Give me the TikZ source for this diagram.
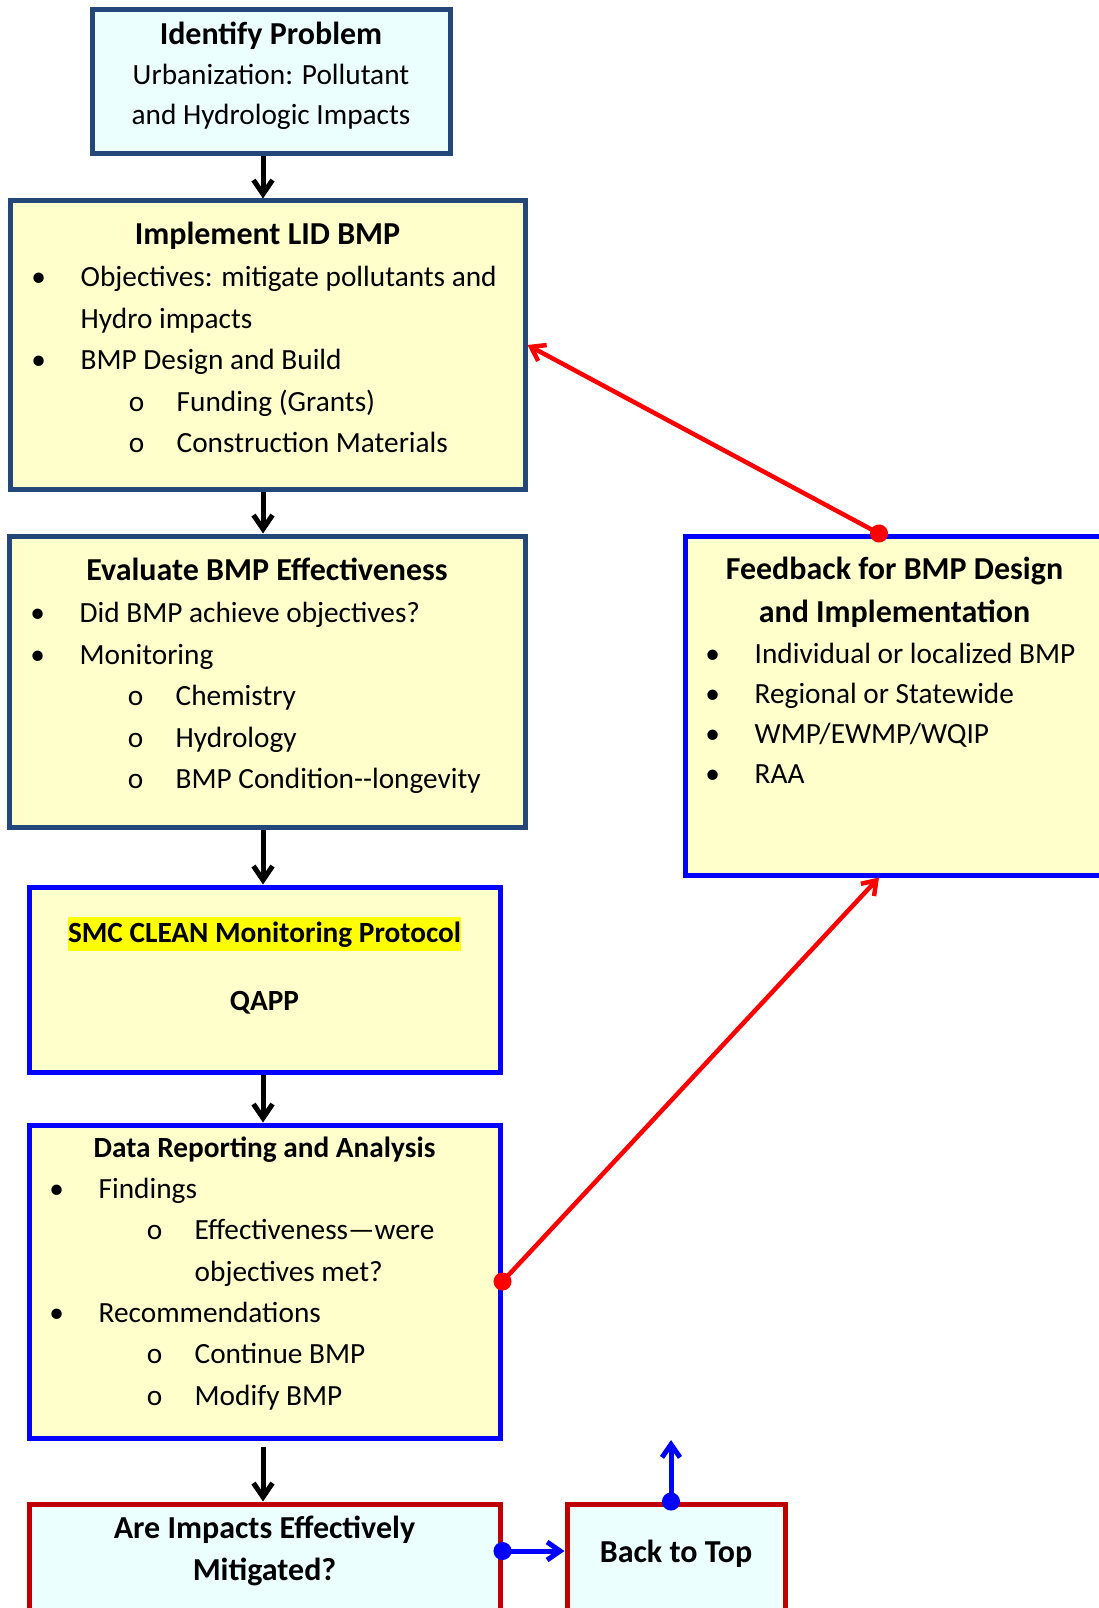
\documentclass[tikz,border=0pt]{standalone}
\usepackage{fontspec}
\setmainfont{Carlito}
\usetikzlibrary{arrows.meta,calc}

\definecolor{boxyellow}{HTML}{FFFFCC}
\definecolor{boxcyan}{HTML}{EBFFFF}
\definecolor{navyline}{HTML}{24477A}
\definecolor{pureblue}{HTML}{0000FF}
\definecolor{darkred}{HTML}{C00000}
\definecolor{hiyellow}{HTML}{FFFF00}

% list lines: bullet, sub-bullet, continuation
\newcommand{\bpt}[1]{\makebox[0pt]{\textbullet}\hspace*{42pt}#1}
\newcommand{\spt}[1]{\hspace*{98pt}\makebox[0pt]{o}\hspace*{40pt}#1}
\newcommand{\bcont}[1]{\hspace*{42pt}#1}
\newcommand{\scont}[1]{\hspace*{138pt}#1}

\begin{document}
\begin{tikzpicture}[x=1pt, y=-1pt,
    box/.style={draw, line width=5pt, inner sep=0pt},
    title/.style={anchor=base, inner sep=0pt, font=\fontsize{32}{38}\selectfont\bfseries},
    body/.style={anchor=base, inner sep=0pt, font=\fontsize{29.3}{35}\selectfont},
    item/.style={anchor=base west, inner sep=0pt, font=\fontsize{29.3}{35}\selectfont},
    flow/.style={line width=5pt, -{Straight Barb[length=14pt,width=19pt]}},
    loop/.style={red, line width=4.5pt, shorten <=-9pt,
        {Circle[length=18pt]}-{Straight Barb[length=13pt,width=18pt]}},
    jump/.style={pureblue, line width=5pt, shorten <=-9pt,
        {Circle[length=18pt]}-{Straight Barb[length=13pt,width=18pt]}}]
    \clip (0,0) rectangle (1099,1608);
    \useasboundingbox (0,0) rectangle (1099,1608);

    % Boxes
    \node[box, draw=navyline, fill=boxcyan, minimum width=358pt, minimum height=144pt] (identify) at (271,82) {};
    \node[box, draw=navyline, fill=boxyellow, minimum width=515pt, minimum height=288pt] (implement) at (267.5,345) {};
    \node[box, draw=navyline, fill=boxyellow, minimum width=516pt, minimum height=291pt] (evaluate) at (267,681.5) {};
    \node[box, draw=pureblue, fill=boxyellow, minimum width=471pt, minimum height=185pt] (protocol) at (264.5,979.5) {};
    \node[box, draw=pureblue, fill=boxyellow, minimum width=471pt, minimum height=313pt] (report) at (264.5,1281.5) {};
    \node[box, draw=darkred, fill=boxcyan, minimum width=471pt, minimum height=156pt] (mitigated) at (264.5,1582) {};
    \node[box, draw=darkred, fill=boxcyan, minimum width=218pt, minimum height=156pt] (backtop) at (676,1582) {};
    \node[box, draw=pureblue, fill=boxyellow, minimum width=419pt, minimum height=339pt] (feedback) at (894.5,705.5) {};

    % Identify Problem
    \node[title] (identify-t) at ($(identify.north)+(0,37)$) {Identify Problem};
    \node[body] (identify-1) at ($(identify.north)+(0,77)$) {Urbanization: Pollutant};
    \node[body] (identify-2) at ($(identify.north)+(0,117)$) {and Hydrologic Impacts};

    % Implement LID BMP
    \node[title] (implement-t) at ($(implement.north)+(0,46)$) {Implement LID BMP};
    \foreach \t [count=\i] in {\bpt{Objectives: mitigate pollutants and}, \bcont{Hydro impacts},
        \bpt{BMP Design and Build}, \spt{Funding (Grants)}, \spt{Construction Materials}}
        \node[item] (implement-\i) at ($(implement.north west)+(31,{88+41.5*(\i-1)})$) {\t};

    % Evaluate BMP Effectiveness
    \node[title] (evaluate-t) at ($(evaluate.north)+(0,47)$) {Evaluate BMP Effectiveness};
    \foreach \t [count=\i] in {\bpt{Did BMP achieve objectives?}, \bpt{Monitoring},
        \spt{Chemistry}, \spt{Hydrology}, \spt{BMP Condition-{}-longevity}}
        \node[item] (evaluate-\i) at ($(evaluate.north west)+(31,{89+41.5*(\i-1)})$) {\t};

    % Protocol
    \node[title, font=\fontsize{29.3}{35}\selectfont\bfseries, fill=hiyellow, text height=26pt, text depth=8pt]
        (protocol-t) at ($(protocol.north)+(0,58)$) {SMC CLEAN Monitoring Protocol};
    \node[title, font=\fontsize{29.3}{35}\selectfont\bfseries] (protocol-q) at ($(protocol.north)+(0,126)$) {QAPP};

    % Data Reporting and Analysis
    \node[title, font=\fontsize{29.3}{35}\selectfont\bfseries] (report-t) at ($(report.north)+(0,35)$) {Data Reporting and Analysis};
    \foreach \t [count=\i] in {\bpt{Findings}, \spt{Effectiveness—were}, \scont{objectives met?},
        \bpt{Recommendations}, \spt{Continue BMP}, \spt{Modify BMP}}
        \node[item] (report-\i) at ($(report.north west)+(30,{76+41.3*(\i-1)})$) {\t};

    % Decision and return
    \node[title] (mitigated-1) at ($(mitigated.north)+(0,37)$) {Are Impacts Effectively};
    \node[title] (mitigated-2) at ($(mitigated.north)+(0,79)$) {Mitigated?};
    \node[title] (backtop-t) at ($(backtop.north)+(0,61)$) {Back to Top};

    % Feedback
    \node[title] (feedback-1) at ($(feedback.north)+(0,46)$) {Feedback for BMP Design};
    \node[title] (feedback-2) at ($(feedback.north)+(0,89)$) {and Implementation};
    \foreach \t [count=\i] in {\bpt{Individual or localized BMP}, \bpt{Regional or Statewide},
        \bpt{WMP/EWMP/WQIP}, \bpt{RAA}}
        \node[item] (feedback-\i) at ($(feedback.north west)+(30,{130+40*(\i-1)})$) {\t};

    % Main flow
    \coordinate (spine) at (263,0);
    \draw[flow] (identify.south -| spine) -- (implement.north -| spine);
    \draw[flow] (implement.south -| spine) -- (evaluate.north -| spine);
    \draw[flow] (evaluate.south -| spine) -- (protocol.north -| spine);
    \draw[flow] (protocol.south -| spine) -- (report.north -| spine);
    \draw[flow] ($(report.south -| spine)+(0,6)$) -- (mitigated.north -| spine);

    % Feedback loop
    \coordinate (tap) at (879,0);
    \draw[loop] (report.east) -- (feedback.south -| tap);
    \draw[loop] (feedback.north -| tap) -- (implement.east);

    % Back to top
    \coordinate (sidey) at (0,1551);
    \coordinate (uptip) at (671,1440);
    \draw[jump] (mitigated.east |- sidey) -- (backtop.west |- sidey);
    \draw[jump] (backtop.north -| uptip) -- (uptip);
\end{tikzpicture}
\end{document}
